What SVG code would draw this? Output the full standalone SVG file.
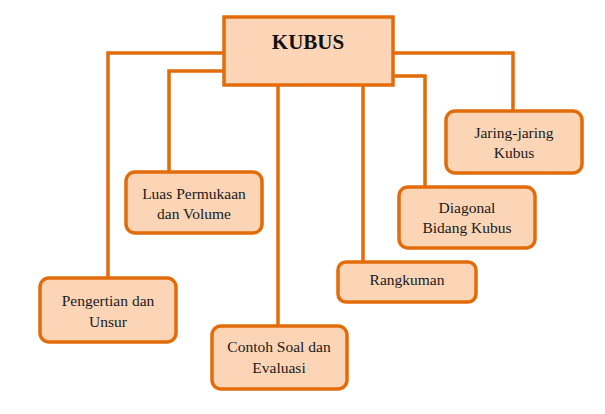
<svg xmlns="http://www.w3.org/2000/svg" width="605" height="414" viewBox="0 0 605 414">
<style>
.box{fill:#FBD5B5;stroke:#E36C0A;stroke-width:3.5}
.conn{fill:none;stroke:#E36C0A;stroke-width:3.5}
.t{font-family:"Liberation Serif","Times New Roman",serif;font-size:15.5px;fill:#1a1a1a;text-anchor:middle}
.title{font-family:"Liberation Serif","Times New Roman",serif;font-size:21px;font-weight:bold;fill:#111;text-anchor:middle}
</style>
<rect width="605" height="414" fill="#ffffff"/>
<g id="connectors">
<polyline class="conn" points="225,53 108,53 108,279"/>
<polyline class="conn" points="225,71 169,71 169,173"/>
<line class="conn" x1="278" y1="85" x2="278" y2="327"/>
<line class="conn" x1="363" y1="85" x2="363" y2="263"/>
<polyline class="conn" points="393,76 425,76 425,188"/>
<polyline class="conn" points="393,53 513,53 513,112"/>
</g>
<g id="kubus">
<rect class="box" x="224" y="17" width="169" height="68"/>
<text class="title" x="308" y="49">KUBUS</text>
</g>
<g id="luas">
<rect class="box" x="126" y="172" width="136" height="61" rx="9"/>
<text class="t" x="194" y="199">Luas Permukaan</text>
<text class="t" x="194" y="219">dan Volume</text>
</g>
<g id="pengertian">
<rect class="box" x="40" y="278" width="136" height="64" rx="9"/>
<text class="t" x="108" y="306">Pengertian dan</text>
<text class="t" x="108" y="327">Unsur</text>
</g>
<g id="contoh">
<rect class="box" x="212" y="326" width="135" height="63" rx="9"/>
<text class="t" x="279" y="352">Contoh Soal dan</text>
<text class="t" x="279" y="373">Evaluasi</text>
</g>
<g id="rangkuman">
<rect class="box" x="338" y="262" width="138" height="40" rx="8"/>
<text class="t" x="407" y="285">Rangkuman</text>
</g>
<g id="diagonal">
<rect class="box" x="399" y="187" width="136" height="61" rx="9"/>
<text class="t" x="467" y="213">Diagonal</text>
<text class="t" x="467" y="233">Bidang Kubus</text>
</g>
<g id="jaring">
<rect class="box" x="446" y="111" width="136" height="62" rx="9"/>
<text class="t" x="514" y="138">Jaring-jaring</text>
<text class="t" x="514" y="158">Kubus</text>
</g>
</svg>
